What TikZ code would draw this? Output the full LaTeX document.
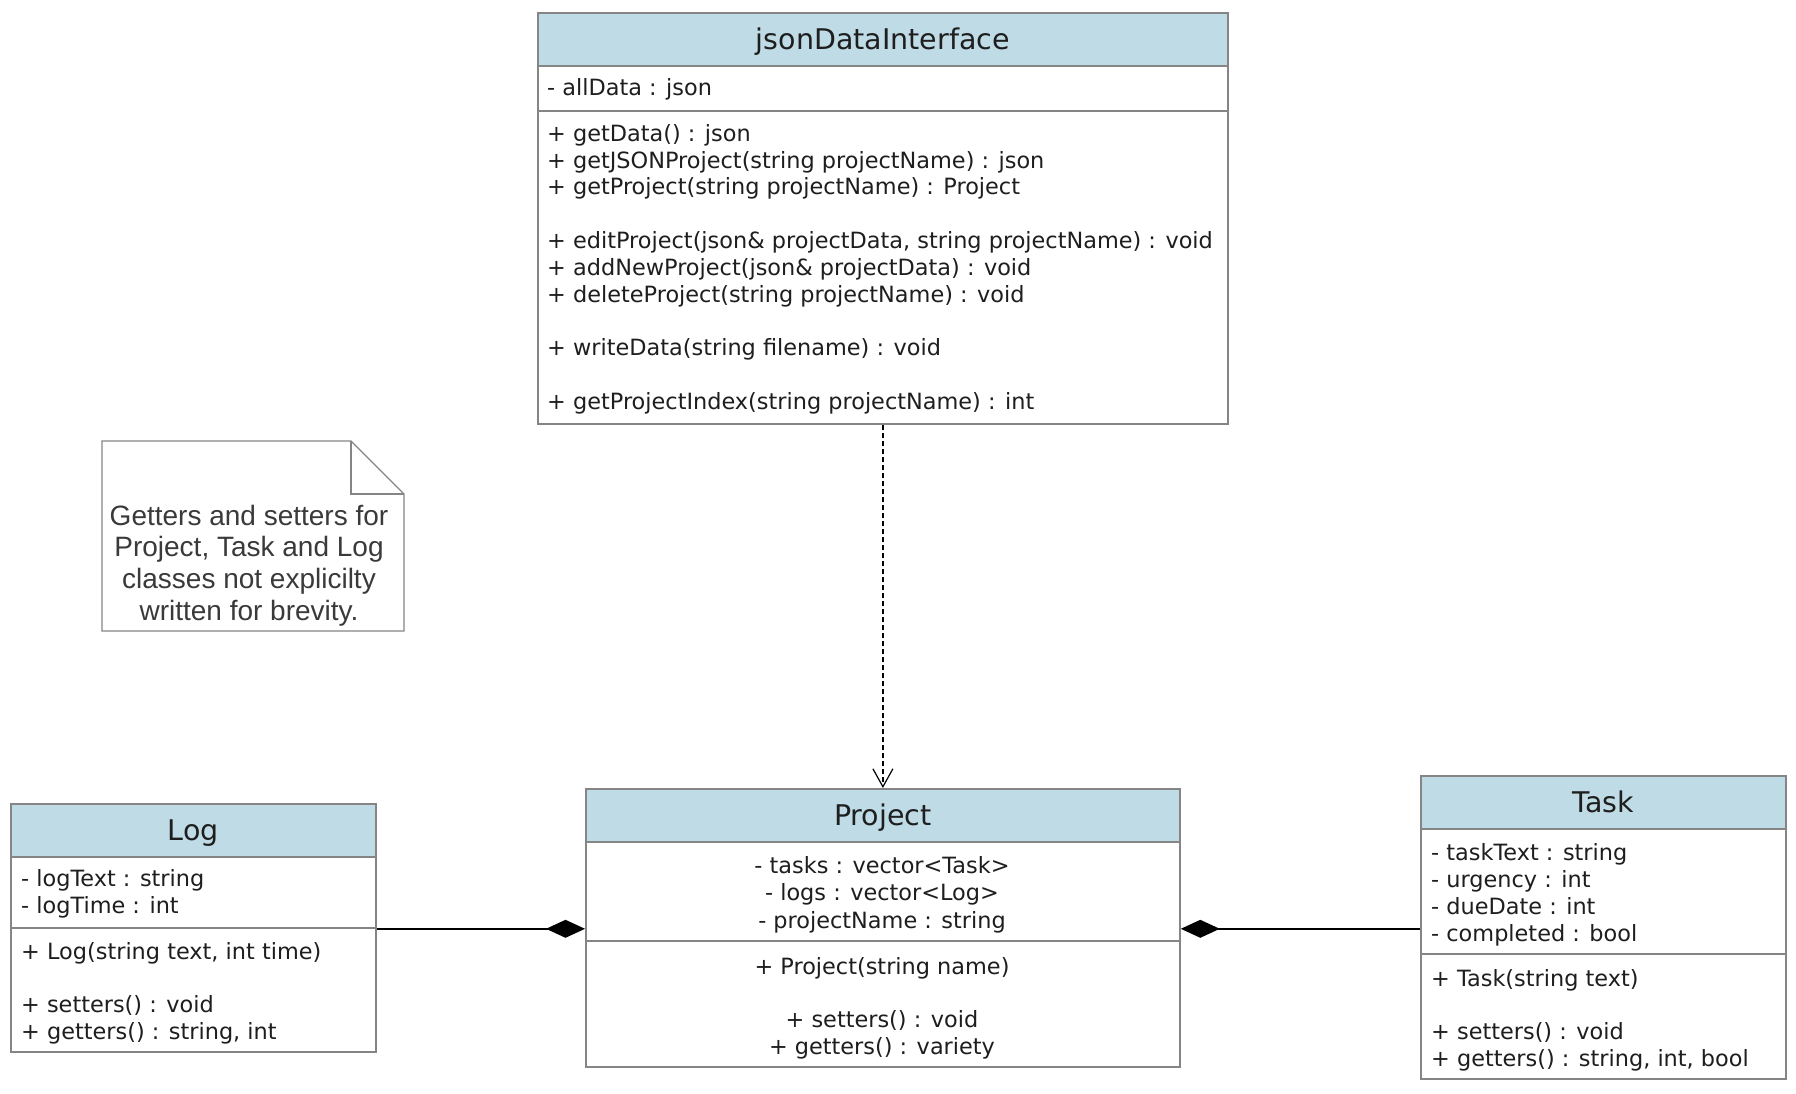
\documentclass[tikz,border=0pt]{standalone}
\usepackage{fontspec}
\setmainfont{DejaVu Sans}
\newfontfamily\notefont{Liberation Sans}
\usetikzlibrary{arrows.meta}

\definecolor{headblue}{HTML}{BFDBE5}
\definecolor{boxgray}{HTML}{858585}
\definecolor{textblack}{HTML}{1E1E1E}
\definecolor{notetext}{HTML}{3A3A3A}

\begin{document}
\begin{tikzpicture}[x=1pt, y=-1pt,
	head/.style={draw=boxgray, fill=headblue, line width=1.8pt, anchor=north west, inner sep=0pt, text height=20.6pt, text depth=0pt, text=textblack, font=\fontsize{28.5}{34}\selectfont},
	part/.style={draw=boxgray, fill=white, line width=1.8pt, anchor=north west, inner sep=0pt},
	row/.style={inner sep=0pt, text=textblack, font=\fontsize{22.4}{26.8}\selectfont},
	noterow/.style={inner sep=0pt, anchor=base, text=notetext, font=\notefont\fontsize{28}{32}\selectfont},
	compo/.style={line width=1.8pt, -{Diamond[length=39pt, width=18pt]}},
	depend/.style={line width=1.6pt, dash pattern=on 5pt off 3pt, -{Straight Barb[length=18pt, width=20pt, line width=1.2pt]}}]
			\useasboundingbox (0,0) rectangle (1796,1094);
			
			\node(jdiH) [head, minimum width=690pt, minimum height=53pt] at (537,12){jsonDataInterface};
			\node(jdiA) [part, minimum width=690pt, minimum height=45pt] at (537,65){};
			\node(jdiM) [part, minimum width=690pt, minimum height=313pt] at (537,110){};
			\node(jdiA1) [row, anchor=base west] at (547,96){- allData : json};
			\foreach \txt [count=\i from 0] in {{+ getData() : json}, {+ getJSONProject(string projectName) : json}, {+ getProject(string projectName) : Project}, {}, {+ editProject(json\& projectData, string projectName) : void}, {+ addNewProject(json\& projectData) : void}, {+ deleteProject(string projectName) : void}, {}, {+ writeData(string filename) : void}, {}, {+ getProjectIndex(string projectName) : int}}
				\node(jdiM\i) [row, anchor=base west] at (547,141.3+26.8*\i){\txt};
			
			\draw[boxgray, line width=1.2pt, fill=white] (102,441) -- (351,441) -- (404,494) -- (404,631) -- (102,631) -- cycle;
			\draw[boxgray, line width=1.2pt] (351,441) -- (351,494) -- (404,494);
			\foreach \txt [count=\i from 0] in {Getters and setters for, {Project, Task and Log}, classes not explicilty, written for brevity.}
				\node(note\i) [noterow] at (249,525+31.7*\i){\txt};
			
			\node(logH) [head, minimum width=365pt, minimum height=53pt] at (10,803){Log};
			\node(logA) [part, minimum width=365pt, minimum height=71pt] at (10,856){};
			\node(logM) [part, minimum width=365pt, minimum height=124pt] at (10,927){};
			\foreach \txt [count=\i from 0] in {{- logText : string}, {- logTime : int}}
				\node(logA\i) [row, anchor=base west] at (21,886+27.5*\i){\txt};
			\foreach \txt [count=\i from 0] in {{+ Log(string text, int time)}, {}, {+ setters() : void}, {+ getters() : string, int}}
				\node(logM\i) [row, anchor=base west] at (21,959+26.7*\i){\txt};
			
			\node(projH) [head, minimum width=594pt, minimum height=53pt] at (585,788){Project};
			\node(projA) [part, minimum width=594pt, minimum height=99pt] at (585,841){};
			\node(projM) [part, minimum width=594pt, minimum height=126pt] at (585,940){};
			\foreach \txt [count=\i from 0] in {{- tasks : vector<Task>}, {- logs : vector<Log>}, {- projectName : string}}
				\node(projA\i) [row, anchor=base] at (882,873+27.5*\i){\txt};
			\foreach \txt [count=\i from 0] in {{+ Project(string name)}, {}, {+ setters() : void}, {+ getters() : variety}}
				\node(projM\i) [row, anchor=base] at (882,974+26.7*\i){\txt};
			
			\node(taskH) [head, minimum width=365pt, minimum height=53pt] at (1420,775){Task};
			\node(taskA) [part, minimum width=365pt, minimum height=125pt] at (1420,828){};
			\node(taskM) [part, minimum width=365pt, minimum height=125pt] at (1420,953){};
			\foreach \txt [count=\i from 0] in {{- taskText : string}, {- urgency : int}, {- dueDate : int}, {- completed : bool}}
				\node(taskA\i) [row, anchor=base west] at (1431,860.5+27*\i){\txt};
			\foreach \txt [count=\i from 0] in {{+ Task(string text)}, {}, {+ setters() : void}, {+ getters() : string, int, bool}}
				\node(taskM\i) [row, anchor=base west] at (1431,986+26.7*\i){\txt};
			
			\draw[depend] (jdiM.south) -- (projH.north);
			\draw[compo] (logA.south east) -- (projA.west |- logA.south east);
			\draw[compo] (taskA.west |- logA.south) -- (projA.east |- logA.south);
			
		\end{tikzpicture}
\end{document}
